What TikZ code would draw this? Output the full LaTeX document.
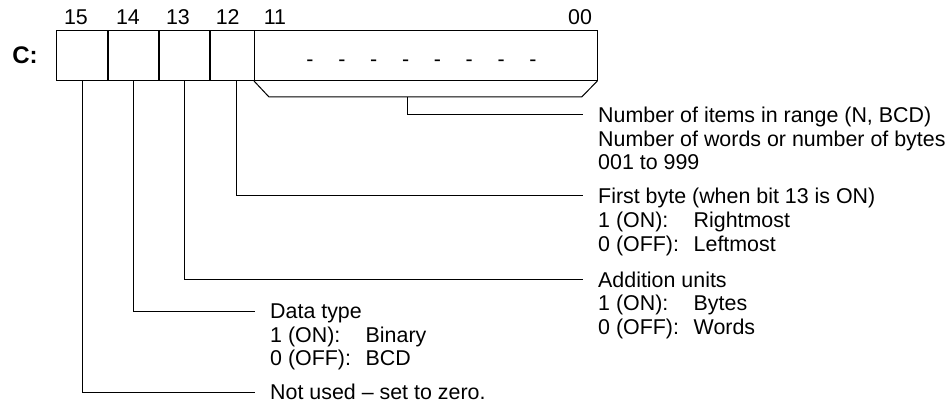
\documentclass[tikz,border=0pt]{standalone}
\usepackage{fontspec}
\setmainfont{Liberation Sans}
\begin{document}
\begin{tikzpicture}[x=1pt,y=-1pt,
  every node/.style={font=\fontsize{21.4}{24}\selectfont, text=black},
  cell/.style={draw, line width=1pt, minimum height=50pt, inner sep=0pt, outer sep=0pt, anchor=north west},
  divider/.style={line width=1.6pt},
  conn/.style={draw, line width=1pt},
  bitnum/.style={anchor=base, inner sep=0pt},
  title/.style={anchor=west, inner ysep=0pt, inner xsep=15pt, text height=15.4pt, text depth=0pt},
  txtline/.style={anchor=west, inner sep=0pt, text height=15.4pt, text depth=0pt}]
\useasboundingbox (0,0) rectangle (949,403);
% register cells
\node[cell, minimum width=51pt]   (c15) at (56.7,31) {};
\node[cell, minimum width=51pt]   (c14) at (107.7,31) {};
\node[cell, minimum width=51.3pt] (c13) at (158.7,31) {};
\node[cell, minimum width=44pt]   (c12) at (210,31) {};
\node[cell, minimum width=343.3pt] (c0) at (254,31) {};
\draw[divider] (c14.north west) -- (c14.south west);
\draw[divider] (c13.north west) -- (c13.south west);
\draw[divider] (c12.north west) -- (c12.south west);
% label C:
\node[font=\fontsize{24}{24}\selectfont\bfseries, anchor=center] (lblC) at (25,55) {C:};
% bit numbers
\node[bitnum] (n15) at (76,25) {15};
\node[bitnum] (n14) at (128,25) {14};
\node[bitnum] (n13) at (178,25) {13};
\node[bitnum] (n12) at (227.7,25) {12};
\node[bitnum] (n11) at (275,25) {11};
\node[bitnum] (n00) at (580,25) {00};
% dashes
\node[anchor=base, inner sep=0pt] (dashes) at (421.5,66.5)
  {\makebox[31.86pt]{-}\makebox[31.86pt]{-}\makebox[31.86pt]{-}\makebox[31.86pt]{-}\makebox[31.86pt]{-}\makebox[31.86pt]{-}\makebox[31.86pt]{-}\makebox[31.86pt]{-}};
% texts right
\node[title] (tNum) at (583,115) {Number of items in range (N, BCD)};
\node[txtline] (tNum2) at (598,138.5) {Number of words or number of bytes};
\node[txtline] (tNum3) at (598,162) {001 to 999};
\node[title] (tFirst) at (583,196) {First byte (when bit 13 is ON)};
\node[txtline] (tFirst2) at (598,220) {\makebox[95.5pt][l]{1 (ON):}Rightmost};
\node[txtline] (tFirst3) at (598,243.5) {\makebox[95.5pt][l]{0 (OFF):}Leftmost};
\node[title] (tAdd) at (583,279.5) {Addition units};
\node[txtline] (tAdd2) at (598,303) {\makebox[95.5pt][l]{1 (ON):}Bytes};
\node[txtline] (tAdd3) at (598,326.5) {\makebox[95.5pt][l]{0 (OFF):}Words};
% texts left
\node[title] (tData) at (255,311) {Data type};
\node[txtline] (tData2) at (270,334.5) {\makebox[95.5pt][l]{1 (ON):}Binary};
\node[txtline] (tData3) at (270,358) {\makebox[95.5pt][l]{0 (OFF):}BCD};
\node[title] (tNot) at (255,392) {Not used – set to zero.};
% bracket
\coordinate (bl) at (269,97);
\coordinate (br) at (581.7,97);
\coordinate (bs) at (407.3,97);
\draw[conn] (c0.south west) -- (bl) -- (br) -- (c0.south east);
\draw[conn] (bs) |- (tNum.west);
% stems
\draw[conn] ([xshift=4pt]c12.south) |- (tFirst.west);
\draw[conn] (c13.south) |- (tAdd.west);
\draw[conn] (c14.south) |- (tData.west);
\draw[conn] (c15.south) |- (tNot.west);
\end{tikzpicture}
\end{document}
